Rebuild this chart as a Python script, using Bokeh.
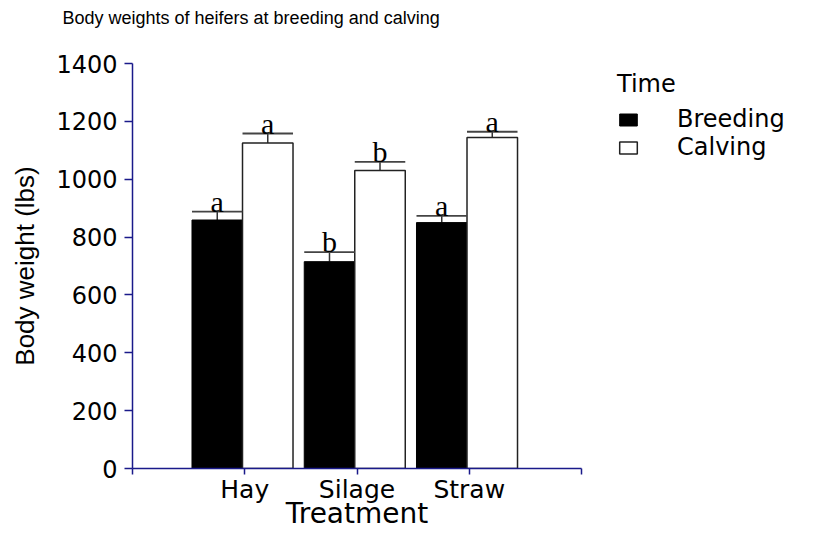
from bokeh.plotting import figure
from bokeh.models import Range1d, FixedTicker, Legend, LegendItem, ColumnDataSource, Title
from bokeh.core.properties import value
from bokeh.embed import file_html
from bokeh.resources import INLINE

# ---- data ----
title_text = "Body weights of heifers at breeding and calving"
treatments = ["Hay", "Silage", "Straw"]
breeding = [859, 715, 850]
calving = [1125, 1030, 1144]
breeding_sem = [29, 33, 23]
calving_sem = [33, 30, 20]
breeding_letters = ["a", "b", "a"]
calving_letters = ["a", "b", "a"]
y_ticks = [0, 200, 400, 600, 800, 1000, 1200, 1400]
series_names = ["Breeding", "Calving"]
legend_title = "Time"
x_label = "Treatment"
y_label = "Body weight (lbs)"

# ---- layout constants ----
BAR_W = 0.45
OFF_B = -0.245
OFF_C = 0.205
AXIS_COLOR = "#1a1a8a"
SANS = "DejaVu Sans"

pos = [i + 1 for i in range(len(treatments))]
xb = [c + OFF_B for c in pos]
xc = [c + OFF_C for c in pos]

p = figure(
    frame_width=449, frame_height=405,
    min_border_left=132, min_border_right=238, min_border_top=63, min_border_bottom=60,
    x_range=Range1d(0, 4), y_range=Range1d(0, 1400),
    output_backend="svg", toolbar_location=None,
    background_fill_color="white", border_fill_color="white",
)
p.outline_line_color = None
p.xgrid.visible = False
p.ygrid.visible = False

# spacer between the frame and the title (keeps the title high on the page)
p.add_layout(Title(text=" ", text_font_size="12px", standoff=18), "above")

# title
p.title.text = title_text
p.title.text_font = "Liberation Sans"
p.title.text_font_size = "18px"
p.title.text_font_style = "normal"
p.title.text_color = "black"
p.title.align = "left"
p.title.vertical_align = "top"
p.title.offset = -70
p.title.standoff = 0

src_b = ColumnDataSource(dict(x=xb, top=breeding, err=[t + e for t, e in zip(breeding, breeding_sem)],
                              lab=breeding_letters))
src_c = ColumnDataSource(dict(x=xc, top=calving, err=[t + e for t, e in zip(calving, calving_sem)],
                              lab=calving_letters))

# error bars (upper only) drawn first
for src in (src_b, src_c):
    p.segment(x0="x", y0="top", x1="x", y1="err", source=src, line_color="#333333", line_width=1.5)

rb = p.vbar(x="x", top="top", bottom=0, width=BAR_W, source=src_b,
            fill_color="black", line_color="black", line_width=1)
rc = p.vbar(x="x", top="top", bottom=0, width=BAR_W, source=src_c,
            fill_color="white", line_color="#222222", line_width=1.5)

for src in (src_b, src_c):
    xs = src.data["x"]
    p.segment(x0=[x - BAR_W / 2 for x in xs], y0=src.data["err"],
              x1=[x + BAR_W / 2 for x in xs], y1=src.data["err"],
              line_color="#444444", line_width=1.8)
    p.text(x="x", y="err", text="lab", source=src, text_align="center",
           text_baseline="bottom", text_font=value("Liberation Serif"),
           text_font_size="30px", text_color="black", y_offset=6)

# axes
p.xaxis.ticker = FixedTicker(ticks=[0, 1, 2, 3, 4])
p.xaxis.major_label_overrides = {0: "", 1: treatments[0], 2: treatments[1], 3: treatments[2], 4: ""}
p.yaxis.ticker = FixedTicker(ticks=y_ticks)
p.xaxis.axis_label = x_label
p.yaxis.axis_label = y_label

for ax in (p.xaxis, p.yaxis):
    ax.axis_line_color = AXIS_COLOR
    ax.axis_line_width = 1.5
    ax.major_tick_line_color = AXIS_COLOR
    ax.major_tick_line_width = 1.5
    ax.major_tick_in = 0
    ax.minor_tick_line_color = None
    ax.major_label_text_color = "black"
    ax.axis_label_text_color = "black"
    ax.axis_label_text_font_style = "normal"

p.xaxis.major_tick_out = 6
p.xaxis.major_label_standoff = 0
p.xaxis.major_label_text_font = SANS
p.xaxis.major_label_text_font_size = "25px"
p.xaxis.axis_label_text_font = SANS
p.xaxis.axis_label_text_font_size = "28px"
p.xaxis.axis_label_standoff = -10

p.yaxis.major_tick_out = 8
p.yaxis.major_label_standoff = 7
p.yaxis.major_label_text_font = SANS
p.yaxis.major_label_text_font_size = "24px"
p.yaxis.axis_label_text_font = "Liberation Sans"
p.yaxis.axis_label_text_font_size = "26px"
p.yaxis.axis_label_standoff = 13

legend = Legend(
    items=[LegendItem(label=series_names[0], renderers=[rb]),
           LegendItem(label=series_names[1], renderers=[rc])],
    title=legend_title, location=(36, 307),
)
legend.title_text_font = SANS
legend.title_text_font_size = "24px"
legend.title_text_font_style = "normal"
legend.title_text_color = "black"
legend.title_standoff = 7
legend.label_text_font = SANS
legend.label_text_font_size = "24px"
legend.label_text_color = "black"
legend.glyph_width = 22
legend.glyph_height = 15
legend.label_standoff = 38
legend.label_height = 27
legend.padding = 5
legend.spacing = 0
legend.margin = 0
legend.border_line_color = None
legend.background_fill_alpha = 0
p.add_layout(legend, "right")

open("out.html", "w").write(file_html(p, INLINE))
